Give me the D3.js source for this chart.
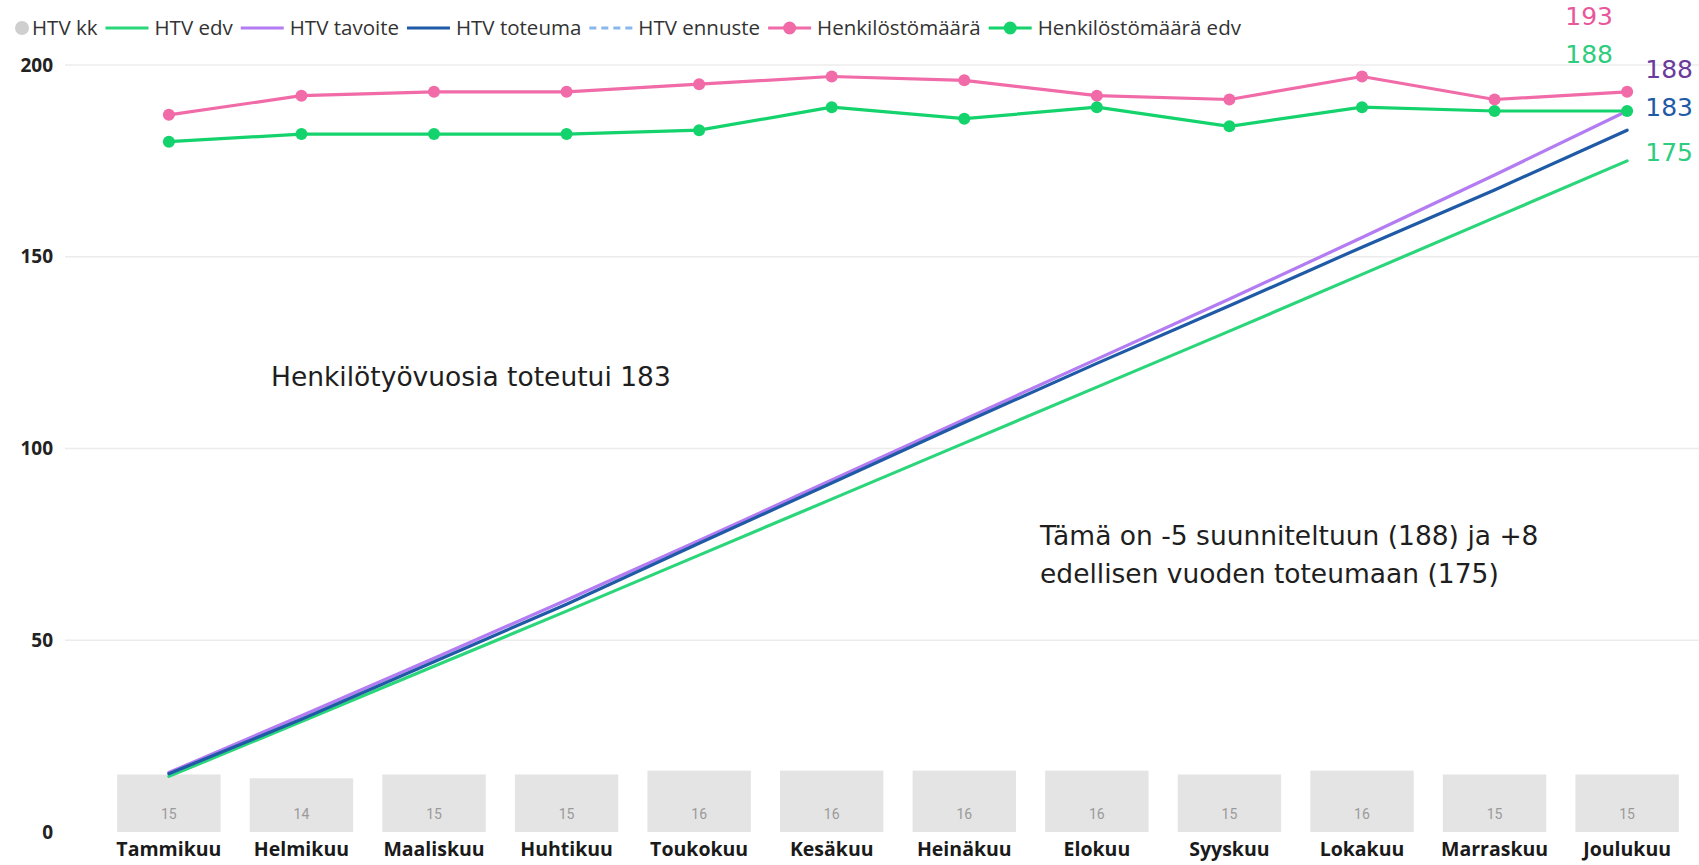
<!DOCTYPE html>
<html>
<head>
<meta charset="utf-8">
<script src="https://cdn.jsdelivr.net/npm/d3@7"></script>
<style>
  html, body { margin: 0; padding: 0; background: #fff; }
  svg { display: block; }
</style>
</head>
<body>
<svg id="chart" width="1699" height="865"></svg>
<script>
// Kuukaudet
const months = ["Tammikuu", "Helmikuu", "Maaliskuu", "Huhtikuu", "Toukokuu", "Kesäkuu",
                "Heinäkuu", "Elokuu", "Syyskuu", "Lokakuu", "Marraskuu", "Joulukuu"];

// HTV per kuukausi (pylväät)
const htvKk = [15, 14, 15, 15, 16, 16, 16, 16, 15, 16, 15, 15];
// Kumulatiiviset HTV-sarjat
const htvEdv      = [14.5, 28.8, 43.2, 57.6, 72.2, 86.8, 101.4, 116.0, 130.6, 145.4, 160.2, 175];
const htvTavoite  = [15.5, 30.3, 45.3, 60.5, 76.0, 91.8, 107.6, 123.3, 139.0, 155.0, 171.3, 188];
const htvToteuma  = [15.2, 29.4, 44.4, 59.4, 75.3, 91.0, 106.8, 122.2, 137.2, 152.5, 167.4, 183];
// Henkilöstömäärät
const henkilosto    = [187, 192, 193, 193, 195, 197, 196, 192, 191, 197, 191, 193];
const henkilostoEdv = [180, 182, 182, 182, 183, 189, 186, 189, 184, 189, 188, 188];

const yTicks = [0, 50, 100, 150, 200];

const legendItems = [
  { name: "HTV kk", type: "dot", color: "#cfcfcf" },
  { name: "HTV edv", type: "line", color: "#2bd67b" },
  { name: "HTV tavoite", type: "line", color: "#b37cf2" },
  { name: "HTV toteuma", type: "line", color: "#1f5aa6" },
  { name: "HTV ennuste", type: "dash", color: "#8ab8ee" },
  { name: "Henkilöstömäärä", type: "linedot", color: "#f06ba8" },
  { name: "Henkilöstömäärä edv", type: "linedot", color: "#14d36c" }
];

const svg = d3.select("#chart");
const W = 1699;

const x = d3.scaleBand().domain(months).range([88, 1708]).padding(0.22);
const y = d3.scaleLinear().domain([0, 200]).range([832, 65]);
const cx = m => x(m) + x.bandwidth() / 2;

// Vaakaviivat
svg.append("g").selectAll("line")
  .data(yTicks.filter(d => d > 0))
  .join("line")
  .attr("x1", 65).attr("x2", W)
  .attr("y1", d => y(d)).attr("y2", d => y(d))
  .attr("stroke", "#ececec").attr("stroke-width", 1.5);

// Y-akseli
const yAxis = svg.append("g")
  .attr("transform", "translate(53,0)")
  .call(d3.axisLeft(y).tickValues(yTicks).tickSize(0).tickPadding(0));
yAxis.select(".domain").remove();
yAxis.selectAll("text")
  .attr("font-family", "'Open Sans', sans-serif")
  .attr("font-size", 19).attr("font-weight", 700).attr("fill", "#222");

// Pylväät
svg.append("g").selectAll("rect")
  .data(htvKk)
  .join("rect")
  .attr("x", (d, i) => x(months[i]))
  .attr("width", x.bandwidth())
  .attr("y", d => y(d))
  .attr("height", d => y(0) - y(d))
  .attr("fill", "#e4e4e4");

svg.append("g").selectAll("text")
  .data(htvKk)
  .join("text")
  .attr("x", (d, i) => cx(months[i]))
  .attr("y", 819)
  .attr("text-anchor", "middle")
  .attr("font-family", "Roboto, sans-serif")
  .attr("font-size", 14)
  .attr("fill", "#9a9a9a")
  .text(d => d);

// X-akseli
const xAxis = svg.append("g")
  .attr("transform", "translate(0,836)")
  .call(d3.axisBottom(x).tickSize(0).tickPadding(6));
xAxis.select(".domain").remove();
xAxis.selectAll("text")
  .attr("font-family", "'Open Sans', sans-serif")
  .attr("font-size", 19.5).attr("font-weight", 700).attr("fill", "#1a1a1a");

// Viivat
const line = d3.line().x((d, i) => cx(months[i])).y(d => y(d));
const series = [
  { data: htvEdv, color: "#2bd67b" },
  { data: htvTavoite, color: "#b37cf2" },
  { data: htvToteuma, color: "#1f5aa6" },
  { data: henkilosto, color: "#f06ba8", dots: true },
  { data: henkilostoEdv, color: "#14d36c", dots: true }
];
series.forEach(s => {
  svg.append("path")
    .datum(s.data)
    .attr("d", line)
    .attr("fill", "none")
    .attr("stroke", s.color)
    .attr("stroke-width", 3.2)
    .attr("stroke-linejoin", "round")
    .attr("stroke-linecap", "round");
  if (s.dots) {
    svg.append("g").selectAll("circle")
      .data(s.data)
      .join("circle")
      .attr("cx", (d, i) => cx(months[i]))
      .attr("cy", d => y(d))
      .attr("r", 6)
      .attr("fill", s.color);
  }
});

// Loppuarvojen tunnisteet
const last = months.length - 1;
const endLabels = [
  { v: henkilosto[last], color: "#e8579a", dx: -38, y: 25 },
  { v: henkilostoEdv[last], color: "#2ecc7e", dx: -38, y: 63 },
  { v: htvTavoite[last], color: "#6a3a9c", dx: 42, y: 78 },
  { v: htvToteuma[last], color: "#1f5aa6", dx: 42, y: 116 },
  { v: htvEdv[last], color: "#2ecc7e", dx: 42, y: 161 }
];
svg.append("g").selectAll("text")
  .data(endLabels)
  .join("text")
  .attr("x", d => cx(months[last]) + d.dx)
  .attr("y", d => d.y)
  .attr("text-anchor", "middle")
  .attr("font-family", "'DejaVu Sans', sans-serif")
  .attr("font-size", 25)
  .attr("fill", d => d.color)
  .text(d => Math.round(d.v));

// Tekstit
const note = svg.append("g")
  .attr("font-family", "'DejaVu Sans', sans-serif")
  .attr("font-size", 26.5)
  .attr("fill", "#1e1e1e");
note.append("text").attr("x", 271).attr("y", 386).text("Henkilötyövuosia toteutui 183");
note.append("text").attr("x", 1040).attr("y", 545).text("Tämä on -5 suunniteltuun (188) ja +8");
note.append("text").attr("x", 1040).attr("y", 583).text("edellisen vuoden toteumaan (175)");

// Selite
const legend = svg.append("g").attr("transform", "translate(0,28)");
let lx = 15;
legendItems.forEach(it => {
  const g = legend.append("g").attr("transform", `translate(${lx},0)`);
  let sw;
  if (it.type === "dot") {
    g.append("circle").attr("cx", 7).attr("cy", 0).attr("r", 7).attr("fill", it.color);
    sw = 14;
  } else {
    sw = 43;
    g.append("line").attr("x1", 0).attr("x2", sw).attr("y1", 0).attr("y2", 0)
      .attr("stroke", it.color).attr("stroke-width", 3)
      .attr("stroke-dasharray", it.type === "dash" ? "7,5" : null);
    if (it.type === "linedot") {
      g.append("circle").attr("cx", sw / 2).attr("cy", 0).attr("r", 6.5).attr("fill", it.color);
    }
  }
  const gap = it.type === "dot" ? 3 : 6;
  const t = g.append("text")
    .attr("x", sw + gap).attr("y", 0).attr("dy", "0.35em")
    .attr("font-family", "'Open Sans', sans-serif")
    .attr("font-size", 20.5).attr("fill", "#333")
    .text(it.name);
  lx += sw + gap + t.node().getComputedTextLength() + 8;
});
</script>
</body>
</html>
